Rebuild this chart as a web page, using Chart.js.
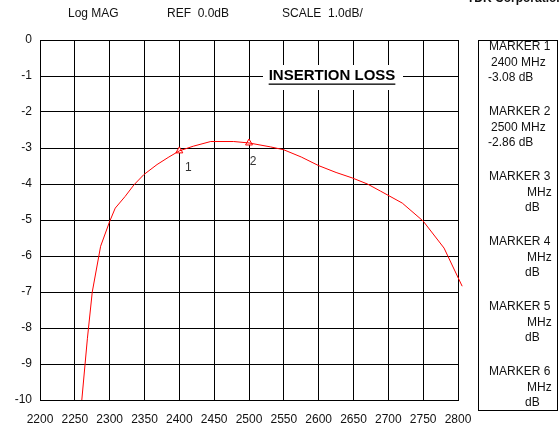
<!DOCTYPE html>
<html>
<head>
<meta charset="utf-8">
<script src="https://cdn.jsdelivr.net/npm/chart.js@4"></script>
<style>
  html, body { margin: 0; padding: 0; background: #fff; }
  #wrap { position: relative; width: 560px; height: 428px; }
</style>
</head>
<body>
<div id="wrap"><canvas id="chart" width="560" height="428"></canvas></div>
<script>
// trace (MHz, dB)
const freqMHz = [2260, 2268, 2275, 2287, 2300, 2308, 2322, 2335, 2349, 2368, 2385, 2400, 2420, 2445, 2478, 2500, 2531, 2550, 2575, 2600, 2625, 2648, 2670, 2689, 2720, 2750, 2780, 2806];
const lossDb = [-10, -8.3, -7.0, -5.73, -5.04, -4.67, -4.35, -4.02, -3.74, -3.46, -3.25, -3.08, -2.95, -2.82, -2.82, -2.86, -2.97, -3.05, -3.25, -3.49, -3.68, -3.83, -4.0, -4.2, -4.53, -5.03, -5.78, -6.84];

const markerFreq = [2400, 2500];
const markerDb = [-3.08, -2.86];
const markerNames = ["1", "2"];

const markerPanel = [
  ["MARKER 1", "2400 MHz", "-3.08 dB"],
  ["MARKER 2", "2500 MHz", "-2.86 dB"],
  ["MARKER 3", "MHz", "dB"],
  ["MARKER 4", "MHz", "dB"],
  ["MARKER 5", "MHz", "dB"],
  ["MARKER 6", "MHz", "dB"],
];

const FONT = "Liberation Sans, Arial, sans-serif";

// header texts, title box, marker labels and the marker panel
const decorations = {
  id: "decorations",
  afterDraw(chart) {
    const ctx = chart.ctx;
    const x = chart.scales.x;
    const y = chart.scales.y;
    ctx.save();

    ctx.fillStyle = "#111";
    ctx.font = "12px " + FONT;
    ctx.textBaseline = "middle";
    ctx.textAlign = "left";
    ctx.fillText("Log MAG", 68, 14);
    ctx.fillText("REF  0.0dB", 167, 14);
    ctx.fillText("SCALE  1.0dB/", 282, 14);

    ctx.font = "bold 12px " + FONT;
    ctx.fillText("TDK Corporation", 467, -1);

    // title with white box over the grid
    ctx.fillStyle = "#fff";
    ctx.fillRect(263, 65, 140, 25);
    ctx.fillStyle = "#000";
    ctx.font = "bold 15px " + FONT;
    ctx.textAlign = "center";
    ctx.fillText("INSERTION LOSS", 332, 76);
    const w = ctx.measureText("INSERTION LOSS").width;
    ctx.fillRect(332 - w / 2, 83.5, w, 1.3);

    // marker numbers under the triangles
    ctx.font = "12px " + FONT;
    ctx.fillStyle = "#333";
    const offs = [[9, 17], [4, 19]];
    markerFreq.forEach((f, i) => {
      ctx.fillText(markerNames[i], x.getPixelForValue(f) + offs[i][0], y.getPixelForValue(markerDb[i]) + offs[i][1]);
    });

    // marker panel
    ctx.strokeStyle = "#000";
    ctx.lineWidth = 1;
    ctx.strokeRect(478.5, 40.5, 79, 370);
    ctx.fillStyle = "#111";
    markerPanel.forEach((lines, g) => {
      const top = 47 + g * 65;
      ctx.textAlign = "left";
      ctx.fillText(lines[0], 489, top);
      if (g < 2) {
        ctx.fillText(lines[1], 491, top + 15.5);
        ctx.fillText(lines[2], 488, top + 31);
      } else {
        ctx.fillText(lines[1], 527, top + 15.5);
        ctx.fillText(lines[2], 525, top + 31);
      }
    });

    ctx.restore();
  }
};

new Chart(document.getElementById("chart"), {
  type: "scatter",
  data: {
    datasets: [
      {
        label: "S21",
        data: freqMHz.map((f, i) => ({ x: f, y: lossDb[i] })),
        showLine: true,
        borderColor: "#ff0000",
        borderWidth: 1,
        pointRadius: 0,
        tension: 0,
        clip: false,
      },
      {
        label: "markers",
        data: markerFreq.map((f, i) => ({ x: f, y: markerDb[i] })),
        pointStyle: "triangle",
        pointRadius: 4,
        borderColor: "#ff0000",
        borderWidth: 1,
        backgroundColor: "#ffffff",
      },
    ],
  },
  options: {
    responsive: false,
    animation: false,
    events: [],
    layout: { padding: { left: 0, right: 102, top: 40, bottom: 0 } },
    plugins: { legend: { display: false }, tooltip: { enabled: false } },
    scales: {
      x: {
        type: "linear",
        min: 2200,
        max: 2800,
        afterFit: (s) => { s.height = 28; },
        ticks: {
          stepSize: 50, color: "#111", font: { family: FONT, size: 12 }, padding: 12, maxRotation: 0, autoSkip: false,
          callback: (v) => String(v),
        },
        grid: { color: "#000", lineWidth: 1, drawTicks: false },
        border: { color: "#000", width: 1 },
      },
      y: {
        min: -10,
        max: 0,
        afterFit: (s) => { s.width = 40; },
        ticks: { stepSize: 1, color: "#111", font: { family: FONT, size: 12 }, padding: 8 },
        grid: { color: "#000", lineWidth: 1, drawTicks: false },
        border: { color: "#000", width: 1 },
      },
    },
  },
  plugins: [decorations],
});
</script>
</body>
</html>
